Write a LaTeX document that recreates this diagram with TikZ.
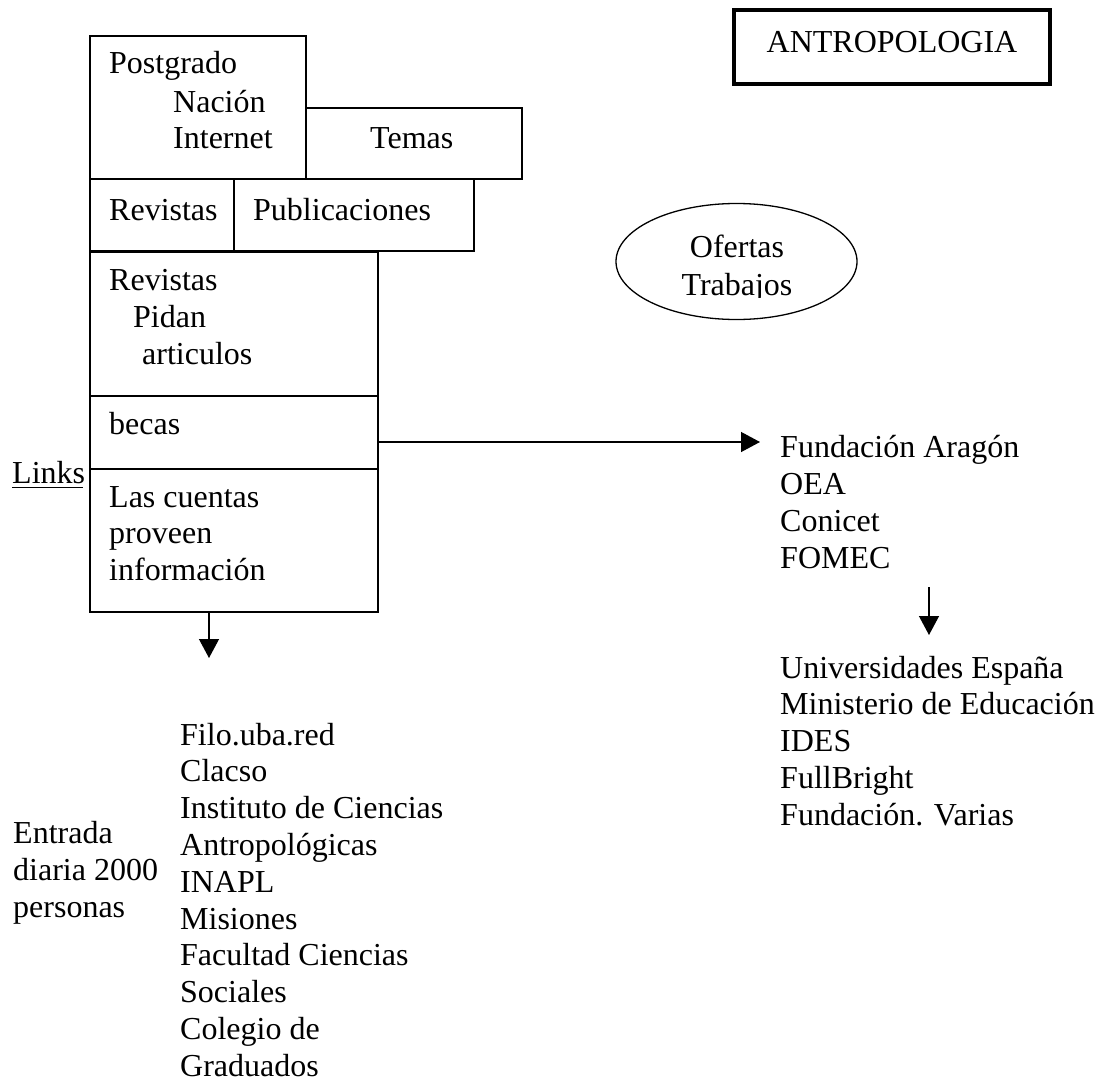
\documentclass[tikz,border=0pt]{standalone}
\usepackage{fontspec}
\setmainfont{Liberation Serif}
\usetikzlibrary{arrows.meta,shapes.geometric}
\tikzset{
  cell/.style={draw, line width=1.6pt, inner sep=0pt, anchor=north west},
  txt/.style={anchor=base west, inner sep=0pt},
  ctxt/.style={anchor=base, inner sep=0pt},
  arr/.style={line width=1.3pt, -{Triangle[length=19pt,width=20pt]}},
}
\begin{document}
\begin{tikzpicture}[x=1pt,y=-1pt,font=\fontsize{32}{37}\selectfont]
\useasboundingbox (0,0) rectangle (1098,1081);

% title box
\node[draw, line width=3.2pt, minimum width=316pt, minimum height=74pt, inner sep=0pt] (title) at (892,47) {};
\node[ctxt] (titletxt) at (892,53) {ANTROPOLOGIA};

% ellipse
\node[draw, ellipse, line width=1.3pt, minimum width=241pt, minimum height=116pt, inner sep=0pt] (ofertas) at (736.5,261.5) {};
\node[ctxt] (of1) at (737,257) {Ofertas};
\begin{scope}
\clip (600,260) rectangle (880,297);
\node[ctxt] (of2) at (737,295) {Trabajos};
\end{scope}

% boxes
\node[cell, minimum width=216pt, minimum height=143pt] (pg) at (89,35) {};
\node[cell, minimum width=216pt, minimum height=71pt] (temas) at (305,107) {};
\node[cell, minimum width=144pt, minimum height=72pt] (rev1) at (89,178) {};
\node[cell, minimum width=240pt, minimum height=72pt] (pub) at (233,178) {};
\node[cell, minimum width=288pt, minimum height=144pt] (rev2) at (89,251) {};
\node[cell, minimum width=288pt, minimum height=73pt] (becas) at (89,395) {};
\node[cell, minimum width=288pt, minimum height=143pt] (lc) at (89,468) {};

% box texts
\node[txt] (t1) at (109,74) {Postgrado};
\node[txt] (t2) at (173,112) {Nación};
\node[txt] (t3) at (173,148) {Internet};
\node[txt] (t4) at (370,148) {Temas};
\node[txt] (t5) at (109,220) {Revistas};
\node[txt] (t6) at (253,220) {Publicaciones};
\node[txt] (t7) at (109,290) {Revistas};
\node[txt] (t8) at (133,327) {Pidan};
\node[txt] (t9) at (142,364) {articulos};
\node[txt] (t10) at (109,434) {becas};
\node[txt] (t11) at (109,507) {Las cuentas};
\node[txt] (t12) at (109,543) {proveen};
\node[txt] (t13) at (109,580) {información};

% Links
\node[txt] (links) at (12,483) {Links};
\draw[line width=1.5pt] (links.base west) ++(0,4.5) -- ++(71,0);

% left bottom texts
\node[txt] (e1) at (13,843) {Entrada};
\node[txt] (e2) at (13,880) {diaria 2000};
\node[txt] (e3) at (13,917) {personas};

\foreach \t [count=\i from 0] in {Filo.uba.red, Clacso, Instituto de Ciencias, Antropológicas, INAPL, Misiones, Facultad Ciencias, Sociales, Colegio de, Graduados}{
  \node[txt] (f\i) at (180,745+36.8*\i) {\t};
}

% right texts
\foreach \t [count=\i from 0] in {Fundación Aragón, OEA, Conicet, FOMEC}{
  \node[txt] (b\i) at (780,457+37*\i) {\t};
}
\foreach \t [count=\i from 0] in {Universidades España, Ministerio de Educación, IDES, FullBright, Fundación. Varias}{
  \node[txt] (u\i) at (780,678+36.8*\i) {\t};
}

% arrows
\coordinate (fatip) at (760,442);
\draw[arr] (becas.east |- fatip) -- (fatip);
\coordinate (lctip) at (209,658);
\draw[arr] (lc.south -| lctip) -- (lctip);
\coordinate (ustart) at (929,587);
\coordinate (utip) at (929,635);
\draw[arr] (ustart) -- (utip);
\end{tikzpicture}
\end{document}
